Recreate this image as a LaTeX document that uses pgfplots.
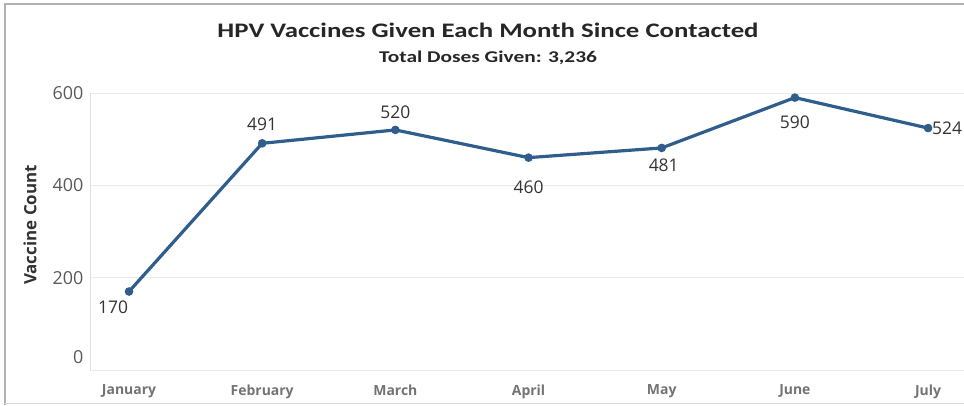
\documentclass[border=0pt]{standalone}
\usepackage{pgfplots}
\pgfplotsset{compat=1.18}
\usepackage{pgfplotstable}
\usepackage{fontspec}
\setmainfont{Open Sans}
\newfontfamily\titlefont[FakeStretch=1.3]{Carlito}
\definecolor{serieblue}{HTML}{2F5D8C}
\definecolor{txtdark}{HTML}{333333}
\definecolor{txtgray}{HTML}{595959}

\pgfplotstableread{
x y dx dy
0 170 -16 -16
1 491 0 19
2 520 0 18
3 460 0 -30
4 481 2 -17
5 590 0 -25
6 524 19 0
}\datatable

\begin{document}
\begin{tikzpicture}[x=1bp,y=1bp]
\begin{axis}[
  at={(90bp,35bp)}, anchor=south west,
  scale only axis, width=874bp, height=277bp,
  xmin=-0.293, xmax=6.27, ymin=0, ymax=600,
  clip=false,
  axis x line*=bottom, axis y line*=left,
  axis line style={draw=black!12, line width=0.8bp},
  major tick length=0,
  ymajorgrids, grid style={draw=black!8, line width=0.8bp},
  ytick={200,400,600},
  extra y ticks={0},
  extra y tick style={yticklabel style={yshift=13bp}, grid=major},
  yticklabel style={font=\fontsize{18}{21}\selectfont, text=txtgray, xshift=-3bp},
  /pgf/number format/assume math mode=true,
  xtick={0,1,2,3,4,5,6},
  xticklabels={January,February,March,April,May,June,July},
  xticklabel style={font=\bfseries\fontsize{14}{17}\selectfont, text=black!55, yshift=-11bp},
  nodes near coords,
  point meta=explicit symbolic,
  visualization depends on={\thisrow{dx} \as \dx},
  visualization depends on={\thisrow{dy} \as \dy},
  every node near coord/.append style={anchor=center, xshift=\dx bp, yshift=\dy bp, font=\fontsize{17.5}{20}\selectfont, text=txtdark},
]
\addplot[serieblue, line width=3.2bp, mark=*, mark size=2.6bp, mark options={fill=serieblue, draw=serieblue}]
  table[x=x, y=y, meta=y] {\datatable};
\end{axis}
\draw[black!30, line width=2bp] (5,0) -- (5,401) -- (964,401);
\draw[black!15, line width=1bp] (5,1.5) -- (964,1.5);
\node[font=\titlefont\bfseries\fontsize{20.7}{24}\selectfont, text=black!85] at (488,375) {HPV Vaccines Given Each Month Since Contacted};
\node[font=\titlefont\bfseries\fontsize{16.5}{20}\selectfont, text=black!85] at (488,347) {Total Doses Given: 3,236};
\node[rotate=90, font=\bfseries\fontsize{17}{20}\selectfont, text=txtdark] at (30,180) {Vaccine Count};
\pgfresetboundingbox
\path[use as bounding box] (0,0) rectangle (964,405);
\end{tikzpicture}
\end{document}
